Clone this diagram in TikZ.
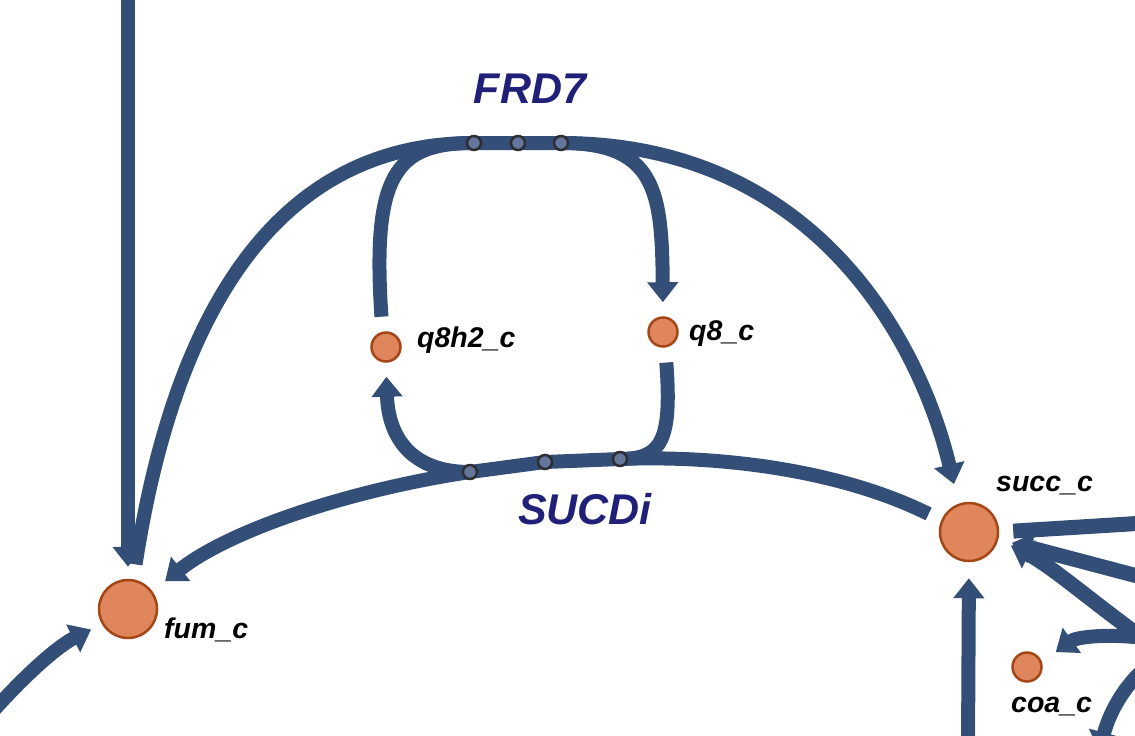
\documentclass[tikz,border=0pt]{standalone}
\usepackage{fontspec}
\setmainfont{Liberation Sans}
\usetikzlibrary
  {
    arrows.meta,   % triangle heads
    backgrounds,   % fluxes behind the markers
  }

\definecolor{fluxblue}{RGB}{52,79,119}
\definecolor{metfill}{RGB}{224,134,92}
\definecolor{metborder}{RGB}{165,70,22}
\definecolor{dotfill}{RGB}{100,118,155}
\definecolor{dotborder}{RGB}{45,45,50}
\definecolor{rxnnavy}{RGB}{32,32,120}

\begin{document}
\begin{tikzpicture}[x=1pt, y=-1pt,
    met/.style={circle, draw=metborder, fill=metfill, line width=2.5pt, inner sep=0pt},
    rxn/.style={circle, draw=dotborder, fill=dotfill, line width=2.5pt, minimum size=14pt, inner sep=0pt},
    flux/.style={draw=fluxblue, line width=14pt, line join=round},
    arr/.style={-{Triangle[width=30pt,length=20pt]}},
    metlbl/.style={anchor=base west, inner sep=0pt, font=\fontsize{28.5}{32}\selectfont\bfseries\itshape},
    rxnlbl/.style={anchor=base, inner sep=0pt, text=rxnnavy, font=\fontsize{43}{50}\selectfont\bfseries\itshape},
  ]
  \useasboundingbox (0,0) rectangle (1135,736);
  \clip (0,0) rectangle (1135,736);

  % metabolites
  \node[met, minimum size=58pt] (fum)  at (128,609) {};
  \node[met, minimum size=58pt] (succ) at (969,532) {};
  \node[met, minimum size=29pt] (q8h2) at (386,347) {};
  \node[met, minimum size=29pt] (q8)   at (663,332) {};
  \node[met, minimum size=29pt] (coa)  at (1027,667) {};

  % reaction markers
  \node[rxn] (frdA) at (474,143) {};
  \node[rxn] (frdB) at (518,143) {};
  \node[rxn] (frdC) at (561,143) {};
  \node[rxn] (sucA) at (470,472) {};
  \node[rxn] (sucB) at (545,462) {};
  \node[rxn] (sucC) at (620,459) {};

  % loose ends outside the frame
  \coordinate (topin)  at (128,-10);
  \coordinate (botin)  at (968,746);
  \coordinate (leftin) at (-6,710);
  \coordinate (rout)   at (1145,523);
  \coordinate (rinA)   at (1145,578);
  \coordinate (rinB)   at (1145,640);
  \coordinate (rinC)   at (1145,638);
  \coordinate (rinD)   at (1145,668);
  \coordinate (routD)  at (1099,752);

  \begin{scope}[on background layer]
    % FRD7
    \draw[flux, arr, shorten <=15pt, shorten >=20pt] (fum.80)
      .. controls (178,290) and (290,143) .. (frdA.center)
      -- (frdC.center)
      .. controls (810,143) and (918,335) .. (succ.110);
    \draw[flux, shorten <=15pt] (q8h2.103)
      .. controls (372,175) and (395,143) .. (frdA.center);
    \draw[flux, arr, shorten >=14pt] (frdC.center)
      .. controls (655,143) and (662,190) .. (q8.north);

    % SUCDi
    \draw[flux, arr, shorten <=14pt, shorten >=16pt] (succ.157)
      .. controls (840,470) and (720,455) .. (sucC.center)
      -- (sucB.center) -- (sucA.center)
      .. controls (350,490) and (230,530) .. (fum.36);
    \draw[flux, shorten <=15pt] (q8.-82)
      .. controls (672,440) and (662,459) .. (sucC.center);
    \draw[flux, arr, shorten >=14pt] (sucA.center)
      .. controls (405,472) and (388,430) .. (q8h2.south);

    % other fluxes
    \draw[flux, arr, shorten >=12pt] (topin) -- (fum.north);
    \draw[flux, arr, shorten >=12pt] (leftin)
      .. controls (30,670) and (60,645) .. (fum.210);
    \draw[flux, arr, shorten >=16pt] (botin) -- (succ.south);
    \draw[flux, line width=15pt, shorten <=14pt] (succ.east) -- (rout);
    \draw[flux, line width=15pt, arr, shorten >=14pt] (rinA) -- (succ.-14);
    \draw[flux, line width=15pt, arr, shorten >=14pt] (rinB)
      .. controls (1090,600) and (1050,565) .. (succ.-14);
    \draw[flux, arr, shorten >=17pt] (rinC)
      .. controls (1100,633) and (1075,638) .. (coa.18);
    \draw[flux, arr] (rinD)
      .. controls (1120,690) and (1108,718) .. (routD);
  \end{scope}

  % labels
  \node[rxnlbl] (frdlbl) at (530,103) {FRD7};
  \node[rxnlbl] (suclbl) at (585,524) {SUCDi};
  \node[metlbl] (fumlbl)  at (164,638) {fum\_c};
  \node[metlbl] (succlbl) at (996,491) {succ\_c};
  \node[metlbl] (q8h2lbl) at (417,347) {q8h2\_c};
  \node[metlbl] (q8lbl)   at (689,340) {q8\_c};
  \node[metlbl] (coalbl)  at (1011,712) {coa\_c};
\end{tikzpicture}
\end{document}
